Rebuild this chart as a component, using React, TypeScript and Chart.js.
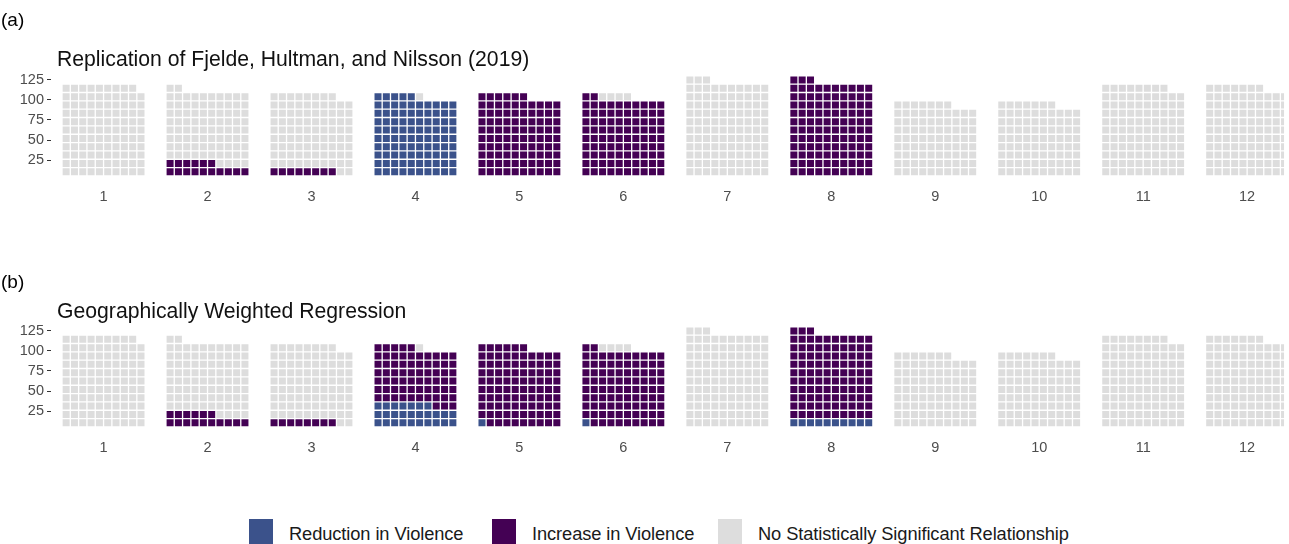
import React, { useEffect, useRef } from 'react';
import { Chart, registerables } from 'chart.js';

Chart.register(...registerables);

// ---------- data ----------
const GROUPS = ['1', '2', '3', '4', '5', '6', '7', '8', '9', '10', '11', '12'];
const TOTAL_TILES = [109, 102, 98, 96, 96, 96, 113, 113, 87, 87, 108, 107];

// Panel (a): Replication of Fjelde, Hultman, and Nilsson (2019)
const REDUCTION_A = [0, 0, 0, 95, 0, 0, 0, 0, 0, 0, 0, 0];
const INCREASE_A = [0, 16, 8, 0, 96, 92, 0, 113, 0, 0, 0, 0];

// Panel (b): Geographically Weighted Regression
const REDUCTION_B = [0, 0, 0, 27, 1, 1, 0, 10, 0, 0, 0, 0];
const INCREASE_B = [0, 16, 8, 68, 95, 91, 0, 103, 0, 0, 0, 0];

const Y_TICKS = [25, 50, 75, 100, 125];
const CATEGORY_LABELS = [
  'Reduction in Violence',
  'Increase in Violence',
  'No Statistically Significant Relationship',
];
const CATEGORY_COLORS = ['#3B528B', '#440154', '#DDDDDD'];

// ---------- layout constants ----------
const TILES_PER_ROW = 10;
const ROW_VALUE = 10.4; // y-axis units per waffle row
const GROUP_STEP = 12.5; // x-axis units between groups
const W = 1289;
const PANEL_H = 251;
const FONT = '"Liberation Sans", Arial, Helvetica, sans-serif';

type Pt = { x: number; y: number };

function buildTiles(reduction: number[], increase: number[]): Pt[][] {
  const out: Pt[][] = [[], [], []];
  GROUPS.forEach((_, g) => {
    const counts = [reduction[g], increase[g], TOTAL_TILES[g] - reduction[g] - increase[g]];
    let idx = 0;
    counts.forEach((n, cat) => {
      for (let k = 0; k < n; k++) {
        const col = idx % TILES_PER_ROW;
        const row = Math.floor(idx / TILES_PER_ROW) + 1;
        out[cat].push({ x: g * GROUP_STEP + col, y: row * ROW_VALUE });
        idx++;
      }
    });
  });
  return out;
}

const panelTextPlugin = {
  id: 'panelText',
  afterDraw(chart: any, _args: any, opts: any) {
    const ctx = chart.ctx;
    ctx.save();
    ctx.textBaseline = 'alphabetic';
    ctx.textAlign = 'left';
    ctx.fillStyle = '#000000';
    ctx.font = `19px ${FONT}`;
    ctx.fillText(opts.tag, 1, opts.tagY);
    ctx.fillStyle = '#111111';
    ctx.font = `21.2px ${FONT}`;
    ctx.fillText(opts.subtitle, 57, opts.subtitleY);
    ctx.restore();
  },
};

function Panel(props: {
  top: number;
  tag: string;
  tagY: number;
  subtitle: string;
  subtitleY: number;
  reduction: number[];
  increase: number[];
}) {
  const ref = useRef<HTMLCanvasElement | null>(null);
  useEffect(() => {
    if (!ref.current) return;
    const tiles = buildTiles(props.reduction, props.increase);
    const chart = new Chart(ref.current, {
      type: 'scatter',
      data: {
        datasets: CATEGORY_LABELS.map((label, i) => ({
          label,
          data: tiles[i],
          backgroundColor: CATEGORY_COLORS[i],
          borderWidth: 0,
          pointStyle: 'rect',
          pointRadius: 4.95,
          pointBorderWidth: 0,
        })),
      },
      options: {
        animation: false,
        responsive: false,
        maintainAspectRatio: false,
        events: [],
        layout: { padding: { top: 72, left: 0, right: 0, bottom: 0 } },
        plugins: {
          legend: { display: false },
          tooltip: { enabled: false },
          title: { display: false },
          panelText: {
            tag: props.tag,
            tagY: props.tagY,
            subtitle: props.subtitle,
            subtitleY: props.subtitleY,
          },
        } as any,
        scales: {
          x: {
            type: 'linear',
            min: -1.82,
            max: 146.44,
            afterBuildTicks: (s: any) => {
              s.ticks = GROUPS.map((_, i) => ({ value: i * GROUP_STEP + (TILES_PER_ROW - 1) / 2 }));
            },
            afterFit: (s: any) => {
              s.height = PANEL_H - 184.2;
            },
            ticks: {
              autoSkip: false,
              maxRotation: 0,
              padding: 4,
              color: '#4D4D4D',
              font: { family: FONT, size: 14.5 },
              callback: (_v: any, i: number) => GROUPS[i],
            },
            grid: { display: false, drawTicks: false },
            border: { display: false },
          },
          y: {
            type: 'linear',
            min: -5.04,
            max: 134.68,
            afterBuildTicks: (s: any) => {
              s.ticks = Y_TICKS.map((v) => ({ value: v }));
            },
            afterFit: (s: any) => {
              s.width = 51;
            },
            ticks: {
              padding: 3,
              color: '#4D4D4D',
              font: { family: FONT, size: 14.5 },
            },
            grid: {
              display: true,
              drawOnChartArea: false,
              drawTicks: true,
              tickLength: 4,
              tickColor: '#333333',
              tickWidth: 1,
            },
            border: { display: false },
          },
        },
      } as any,
      plugins: [panelTextPlugin as any],
    });
    return () => chart.destroy();
  }, []);
  return (
    <canvas
      ref={ref}
      width={W}
      height={PANEL_H}
      style={{ position: 'absolute', left: 0, top: props.top, width: W, height: PANEL_H, display: 'block' }}
    />
  );
}

const LEGEND_OFFSETS = [249, 492, 718];

export default function App() {
  return (
    <div
      style={{
        position: 'absolute',
        left: 0,
        top: 0,
        width: W,
        height: 544,
        background: '#ffffff',
        overflow: 'hidden',
        fontFamily: FONT,
      }}
    >
      <Panel
        top={0}
        tag="(a)"
        tagY={26}
        subtitle="Replication of Fjelde, Hultman, and Nilsson (2019)"
        subtitleY={66}
        reduction={REDUCTION_A}
        increase={INCREASE_A}
      />
      <Panel
        top={251}
        tag="(b)"
        tagY={37}
        subtitle="Geographically Weighted Regression"
        subtitleY={67}
        reduction={REDUCTION_B}
        increase={INCREASE_B}
      />
      {CATEGORY_LABELS.map((label, i) => (
        <div
          key={label}
          style={{
            position: 'absolute',
            left: LEGEND_OFFSETS[i],
            top: 519,
            height: 25,
            display: 'flex',
            alignItems: 'center',
            whiteSpace: 'nowrap',
          }}
        >
          <div style={{ width: 24, height: 25, background: CATEGORY_COLORS[i] }} />
          <span
            style={{
              marginLeft: 16,
              fontSize: 18.3,
              color: '#1a1a1a',
              position: 'relative',
              top: 2,
              letterSpacing: -0.1,
            }}
          >
            {label}
          </span>
        </div>
      ))}
    </div>
  );
}
